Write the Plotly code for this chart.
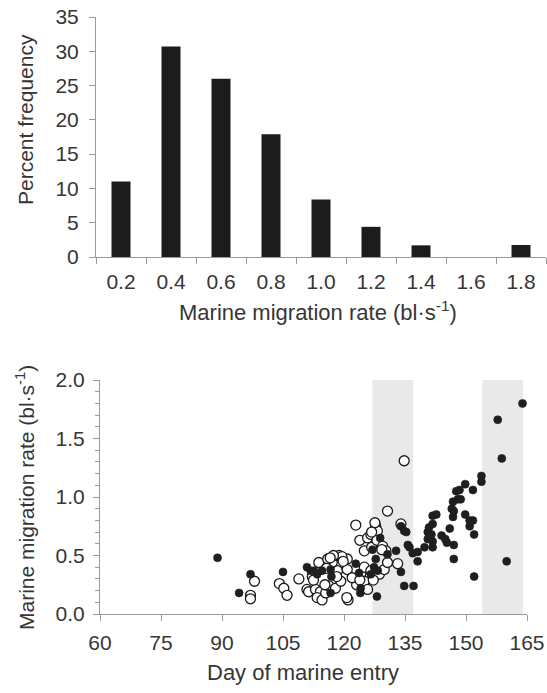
import plotly.graph_objects as go

# ---- Data ----
bin_labels = ["0.2", "0.4", "0.6", "0.8", "1.0", "1.2", "1.4", "1.6", "1.8"]
percent_freq = [11.0, 30.7, 26.0, 17.9, 8.4, 4.4, 1.7, 0.0, 1.75]

filled_day = [88.9, 94.2, 97.0, 105.0, 110.9, 111.8, 112.6, 113.4, 114.6, 116.7,
              116.9, 116.7, 122.9, 123.7, 124.1, 124.0, 126.6, 127.0, 127.4, 127.8,
              128.3, 128.1, 128.9, 130.7, 132.8, 134.0, 134.0, 134.8, 135.3, 134.8,
              137.1, 135.7, 136.1, 136.9, 138.1, 138.1, 139.8, 140.6, 140.6, 140.9,
              141.5, 141.8, 141.8, 141.8, 141.8, 142.7, 144.0, 144.9, 145.3, 146.0,
              147.0, 147.0, 146.8, 146.5, 147.0, 146.8, 148.0, 148.7, 147.6, 148.4,
              149.8, 151.7, 149.8, 150.9, 151.7, 150.9, 152.0, 152.0, 153.8, 153.8,
              157.8, 158.8, 160.0, 163.9]
filled_rate = [0.48, 0.18, 0.34, 0.36, 0.40, 0.37, 0.37, 0.34, 0.37, 0.38,
               0.32, 0.18, 0.43, 0.35, 0.22, 0.18, 0.34, 0.55, 0.40, 0.47,
               0.37, 0.15, 0.65, 0.51, 0.54, 0.36, 0.75, 0.71, 0.70, 0.24,
               0.24, 0.59, 0.57, 0.52, 0.53, 0.45, 0.57, 0.64, 0.70, 0.74,
               0.68, 0.62, 0.57, 0.77, 0.84, 0.85, 0.67, 0.64, 0.61, 0.73,
               0.59, 0.47, 0.83, 0.90, 0.88, 0.96, 0.98, 0.98, 1.05, 1.06,
               1.11, 1.06, 0.85, 0.80, 0.80, 0.75, 0.68, 0.32, 1.13, 1.18,
               1.66, 1.33, 0.45, 1.80]

open_day = [97.0, 97.0, 98.0, 104.1, 105.2, 106.0, 108.9, 110.9, 111.3, 112.2,
            113.8, 113.0, 114.2, 113.4, 114.6, 115.5, 116.3, 117.9, 119.2, 118.4,
            117.1, 118.8, 120.8, 120.8, 121.0, 122.9, 123.1, 124.1, 125.0, 125.8,
            125.0, 125.0, 123.9, 125.8, 126.6, 127.8, 128.2, 126.8, 128.1, 129.5,
            130.3, 126.6, 127.8, 128.7, 129.9, 130.7, 133.2, 130.7, 134.0, 134.8,
            112.5, 116.0, 119.5, 122.0, 127.6, 126.8, 129.3, 117.4, 119.8, 116.6,
            115.7, 118.2, 115.3, 120.7, 123.9, 127.2]
open_rate = [0.16, 0.13, 0.28, 0.26, 0.22, 0.16, 0.30, 0.21, 0.19, 0.32,
             0.44, 0.21, 0.19, 0.14, 0.12, 0.18, 0.24, 0.22, 0.28, 0.37,
             0.44, 0.50, 0.47, 0.38, 0.12, 0.76, 0.25, 0.34, 0.28, 0.21,
             0.40, 0.54, 0.63, 0.65, 0.68, 0.75, 0.71, 0.57, 0.63, 0.58,
             0.54, 0.37, 0.34, 0.34, 0.38, 0.44, 0.43, 0.88, 0.77, 1.31,
             0.29, 0.47, 0.49, 0.31, 0.78, 0.70, 0.55, 0.50, 0.45, 0.48,
             0.39, 0.32, 0.25, 0.14, 0.29, 0.29]

shade_periods = [(127, 137), (154, 164)]

top_xtitle = "Marine migration rate (bl·s<sup>-1</sup>)"
top_ytitle = "Percent frequency"
bot_xtitle = "Day of marine entry"
bot_ytitle = "Marine migration rate (bl·s<sup>-1</sup>)"

W, H = 547, 693
FONT = "Liberation Sans, Arial, sans-serif"
AXC = "#9a9a9a"
TXT = "#363636"

fig = go.Figure()

fig.add_trace(go.Bar(x=bin_labels, y=percent_freq,
                     marker=dict(color="#1c1c1c", line=dict(width=0)),
                     xaxis="x", yaxis="y", showlegend=False))

fig.add_trace(go.Scatter(x=open_day, y=open_rate, mode="markers",
                         marker=dict(symbol="circle", size=10, color="white",
                                     line=dict(color="#1a1a1a", width=1.3)),
                         xaxis="x2", yaxis="y2", showlegend=False))
fig.add_trace(go.Scatter(x=filled_day, y=filled_rate, mode="markers",
                         marker=dict(symbol="circle", size=8, color="#1f1f1f",
                                     line=dict(color="#1f1f1f", width=0.6)),
                         xaxis="x2", yaxis="y2", showlegend=False))

shapes = []
for a, b in shade_periods:
    shapes.append(dict(type="rect", xref="x2", yref="y2", x0=a, x1=b, y0=0, y1=2.04,
                       fillcolor="#e9e9e9", line=dict(width=0), layer="below"))

def px_x(p):
    return p / W

def px_y(p):
    return (H - p) / H

annotations = [
    dict(text=top_xtitle, x=px_x(318), y=px_y(311), xref="paper", yref="paper",
         showarrow=False, xanchor="center", yanchor="middle",
         font=dict(family=FONT, size=22, color=TXT)),
    dict(text=top_ytitle, x=px_x(25), y=px_y(120), xref="paper", yref="paper",
         showarrow=False, xanchor="center", yanchor="middle", textangle=-90,
         font=dict(family=FONT, size=21, color=TXT)),
    dict(text=bot_xtitle, x=px_x(303), y=px_y(672), xref="paper", yref="paper",
         showarrow=False, xanchor="center", yanchor="middle",
         font=dict(family=FONT, size=22, color=TXT)),
    dict(text=bot_ytitle, x=px_x(25), y=px_y(498), xref="paper", yref="paper",
         showarrow=False, xanchor="center", yanchor="middle", textangle=-90,
         font=dict(family=FONT, size=21, color=TXT)),
]

axis_common = dict(showgrid=False, zeroline=False, showline=True, linecolor=AXC, linewidth=1,
                   ticks="outside", tickcolor=AXC, ticklen=6, tickwidth=1, automargin=False,
                   tickfont=dict(family=FONT, size=21, color=TXT))

fig.update_layout(
    width=W, height=H,
    margin=dict(l=0, r=0, t=0, b=0, autoexpand=False),
    paper_bgcolor="white", plot_bgcolor="white",
    bargap=0.62,
    shapes=shapes,
    annotations=annotations,
    xaxis=dict(domain=[96/W, 546/W], anchor="y", type="category",
               tickson="boundaries", ticklabelstandoff=6, **axis_common),
    yaxis=dict(domain=[px_y(257), px_y(17)], anchor="x", range=[0, 35], dtick=5,
               ticklabelstandoff=6, **axis_common),
    xaxis2=dict(domain=[100/W, 527/W], anchor="y2", range=[60, 165], dtick=15, tick0=60,
                ticklabelstandoff=4, **axis_common),
    yaxis2=dict(domain=[px_y(614), px_y(380)], anchor="x2", range=[0, 2.0], dtick=0.5,
                tickformat=".1f", ticklabelstandoff=4,
                minor=dict(dtick=0.1, ticks="outside", ticklen=4, tickcolor=AXC),
                **axis_common),
)

fig.write_html("out.html")
